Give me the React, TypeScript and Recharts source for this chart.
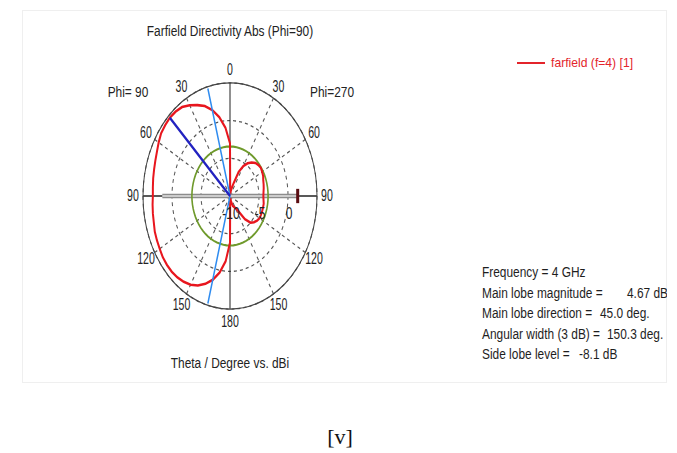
import React from "react";
import {
  RadarChart,
  Radar,
  PolarGrid,
  PolarAngleAxis,
  PolarRadiusAxis
} from "recharts";

// theta in degrees, shared by both half-planes
const thetas = [
  0, 5, 10, 15, 20, 25, 30, 35, 40, 45, 50, 55, 60, 65, 70, 75, 80, 85, 90,
  95, 100, 105, 110, 115, 120, 125, 130, 135, 140, 145, 150, 155, 160, 165,
  170, 175, 180
];

// directivity (dBi), right half (Phi=270)
const phi270Db = [
  -3.0, -9.6, -9.5, -9.0, -8.2, -6.5, -5.4, -4.7, -4.2, -3.8, -3.6, -3.5,
  -3.6, -3.7, -3.9, -4.0, -4.1, -4.2, -4.25, -4.2, -4.1, -4.1, -4.1, -4.1,
  -4.1, -4.3, -4.6, -5.0, -6.0, -7.6, -8.2, -8.4, -8.6, -9.2, -9.6, -9.6,
  -3.8
];

// left half (Phi=90)
const phi90Db = [
  -3.0, -0.9, 0.6, 1.8, 2.7, 3.3, 3.9, 4.4, 4.6, 4.67, 4.6, 4.5, 4.2, 3.9,
  3.7, 3.55, 3.45, 3.35, 3.3, 3.4, 3.5, 3.6, 3.8, 3.9, 4.0, 4.15, 4.2, 4.2,
  4.1, 3.9, 3.6, 3.1, 2.4, 1.5, 0.3, -1.3, -3.8
];

const radiusDomain = [-10, 5];
const radiusLabels = [-10, -5, 0];
const angleLabels = [0, 30, 60, 90, 120, 150, 180];
const gridThetas = [30, 60, 120, 150];

const mainLobeMag = 4.67;
const mainLobeDir = 45;
const sideLobeRel = -8.1;
const beamEdges = [15, 165];
const beamEdgeLevel = 4.75;
const threeDbLevel = mainLobeMag - 3;

// text block on the right
const infoLines = [
  { label: "Frequency = 4 GHz", value: "", vx: 0 },
  { label: "Main lobe magnitude =", value: "4.67 dBi", vx: 627 },
  { label: "Main lobe direction =", value: "45.0 deg.", vx: 600 },
  { label: "Angular width (3 dB) =", value: "150.3 deg.", vx: 607 },
  { label: "Side lobe level =", value: "-8.1 dB", vx: 579 }
];

const FONT = '"Liberation Sans", Arial, sans-serif';
const floor = radiusDomain[0];

const rows: any[] = [];
thetas.forEach((t, i) => {
  rows.push({ key: `R${t}`, side: "R", theta: t, pattern: phi270Db[i] });
});
for (let i = thetas.length - 2; i >= 1; i--) {
  rows.push({ key: `L${thetas[i]}`, side: "L", theta: thetas[i], pattern: phi90Db[i] });
}
rows.forEach((r) => {
  r.sideLobe = mainLobeMag + sideLobeRel;
  r.mainDir = r.side === "L" && r.theta === mainLobeDir ? mainLobeMag : floor;
  r.beam = r.side === "L" && beamEdges.includes(r.theta) ? beamEdgeLevel : floor;
  r.threeDb = r.theta === 90 ? threeDbLevel : floor;
});

const dashedAngles = gridThetas.flatMap((t) => [90 - t, 90 + t]);
const axisAngles = [0, 90, 180, 270];

const AngleTick = (props: any) => {
  const { x, y, payload } = props;
  const theta = Number(String(payload.value).slice(1));
  if (!angleLabels.includes(theta)) return <g />;
  return (
    <text
      x={x}
      y={y}
      transform={`translate(${x} ${y}) scale(0.88 1) translate(${-x} ${-y})`}
      textAnchor="middle"
      dominantBaseline="central"
      fontSize={12}
      fontFamily={FONT}
      fill="#222"
    >
      {theta}
    </text>
  );
};

const RadiusTick = (props: any) => {
  const { x, y, payload } = props;
  if (!radiusLabels.includes(payload.value)) return <g />;
  return (
    <text
      x={x + 1}
      y={y + 13.5}
      textAnchor="middle"
      dominantBaseline="central"
      fontSize={12}
      fontFamily={FONT}
      fill="#222"
    >
      {payload.value}
    </text>
  );
};

const MarkerDot = (props: any) => {
  const { cx, cy, payload } = props;
  const p = payload?.payload ?? payload;
  if (!p || p.key !== "R90") return <g />;
  return <rect x={cx - 1.5} y={cy - 5.5} width={3} height={11} fill="#5a0d12" />;
};

function Txt({ x, y, text, anchor = "middle", size = 14, sx = 0.85, color = "#222", family = FONT }: any) {
  const mid = anchor === "middle";
  return (
    <div
      style={{
        position: "absolute",
        left: x,
        top: y,
        transform: mid ? `translate(-50%,-50%) scaleX(${sx})` : `translateY(-50%) scaleX(${sx})`,
        transformOrigin: mid ? "center" : "left center",
        whiteSpace: "pre",
        fontSize: size,
        lineHeight: 1,
        fontFamily: family,
        color
      }}
    >
      {text}
    </div>
  );
}

export default function App() {
  return (
    <div style={{ position: "relative", width: 677, height: 453, background: "#fff", overflow: "hidden" }}>
      <style>{"body{margin:0}"}</style>
      <div style={{ position: "absolute", left: 22, top: 10, width: 645, height: 373, border: "1px solid #efefef", boxSizing: "border-box" }} />
      <div style={{ position: "absolute", left: 0, top: 0, width: 667, height: 383, overflow: "hidden" }}>
        <Txt x={230} y={31} text="Farfield Directivity Abs (Phi=90)" />
        <Txt x={128} y={92} text="Phi= 90" />
        <Txt x={332} y={92} text="Phi=270" />
        <Txt x={230} y={363} text="Theta / Degree vs. dBi" />

        <div style={{ position: "absolute", left: 517, top: 62, width: 28, height: 2, background: "#e3242b" }} />
        <Txt x={551} y={63} anchor="start" text="farfield (f=4) [1]" size={13.5} sx={0.9} color="#e3242b" />

        {infoLines.map((l, i) => (
          <React.Fragment key={l.label}>
            <Txt x={482} y={272 + i * 20.5} anchor="start" text={l.label} color="#1e1e1e" />
            {l.value ? <Txt x={l.vx} y={272 + i * 20.5} anchor="start" text={l.value} color="#1e1e1e" /> : null}
          </React.Fragment>
        ))}

        <div
          style={{
            position: "absolute",
            left: 110,
            top: 75.5,
            width: 240,
            height: 240,
            transform: "scaleY(1.3)",
            transformOrigin: "120px 120px"
          }}
        >
          <RadarChart width={240} height={240} cx={120} cy={120} outerRadius={87} data={rows} margin={{ top: 0, right: 0, bottom: 0, left: 0 }}>
            <PolarGrid gridType="circle" polarAngles={dashedAngles} stroke="#555" strokeDasharray="3 3" />
            <PolarAngleAxis
              dataKey="key"
              axisLineType="circle"
              axisLine={{ stroke: "#444" }}
              tickLine={false}
              tickSize={10}
              tick={AngleTick}
            />
            <PolarRadiusAxis
              angle={0}
              domain={radiusDomain}
              tickCount={4}
              axisLine={false}
              tick={RadiusTick}
            />
            <Radar dataKey="threeDb" stroke="#8c8c8c" strokeWidth={3.5} fill="none" dot={MarkerDot} activeDot={false} isAnimationActive={false} />
            <Radar dataKey="threeDb" stroke="#e2e2e2" strokeWidth={1.2} fill="none" dot={false} activeDot={false} isAnimationActive={false} />
            <PolarGrid gridType="circle" polarAngles={axisAngles} polarRadius={[]} stroke="#222" />
            <Radar dataKey="sideLobe" stroke="#6f9a2c" strokeWidth={1.6} fill="none" dot={false} activeDot={false} isAnimationActive={false} />
            <Radar dataKey="pattern" stroke="#e8161e" strokeWidth={2} fill="none" dot={false} activeDot={false} isAnimationActive={false} />
            <Radar dataKey="beam" stroke="#2f8cf0" strokeWidth={1.5} fill="none" dot={false} activeDot={false} isAnimationActive={false} />
            <Radar dataKey="mainDir" stroke="#2222c0" strokeWidth={2} fill="none" dot={false} activeDot={false} isAnimationActive={false} />
          </RadarChart>
        </div>
      </div>
      <Txt x={340} y={437} text="[v]" size={22} sx={1} color="#111" family='"Liberation Serif", "Times New Roman", serif' />
    </div>
  );
}
